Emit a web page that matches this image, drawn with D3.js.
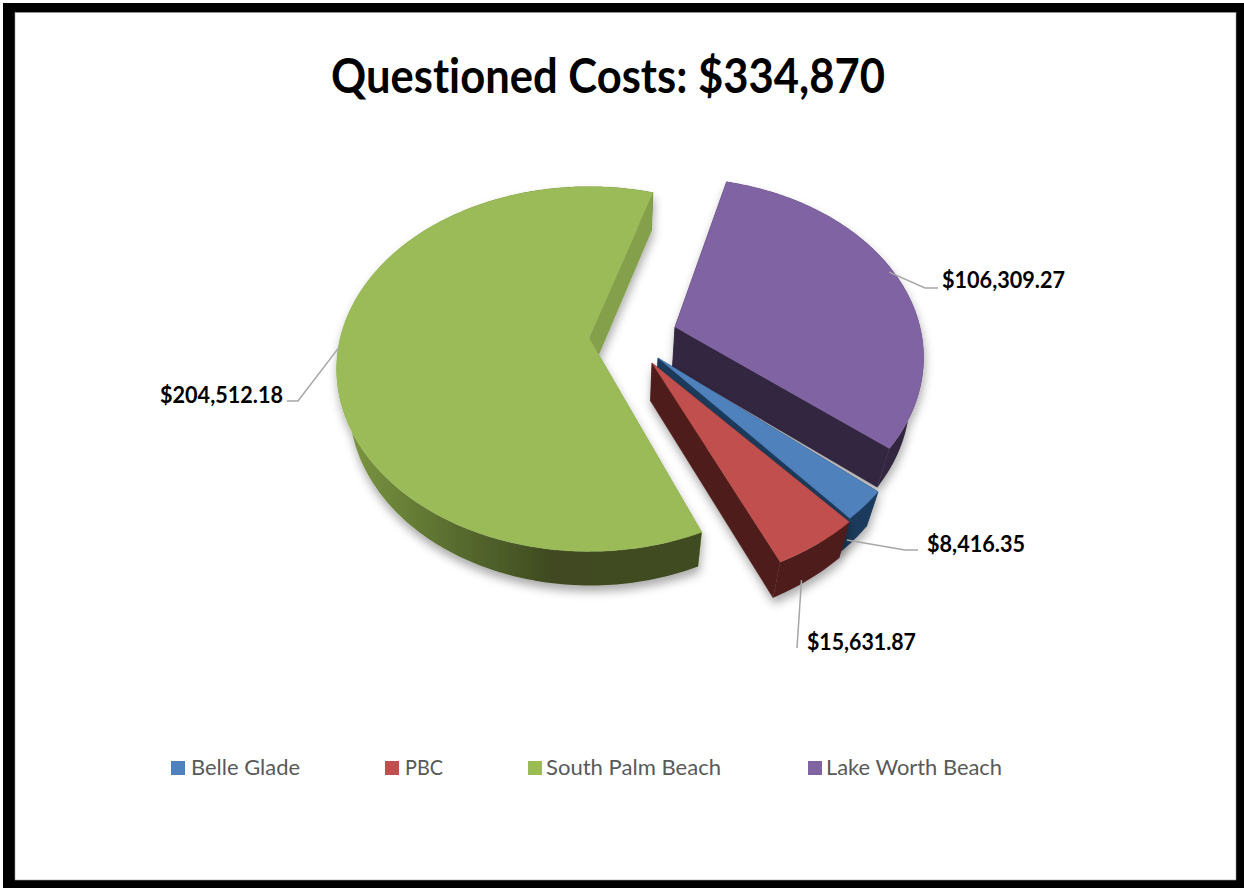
<!DOCTYPE html>
<html>
<head>
<meta charset="utf-8">
<title>Questioned Costs</title>
<script src="https://cdnjs.cloudflare.com/ajax/libs/d3/7.8.5/d3.min.js"></script>
<style>
  html, body { margin: 0; padding: 0; background: #fff; }
  svg { display: block; }
  text { font-family: Lato, "Open Sans", sans-serif; font-variant-ligatures: none; }
</style>
</head>
<body>
<svg id="chart" width="1244" height="888"></svg>
<script>
// Chart values
const categories = ["Belle Glade", "PBC", "South Palm Beach", "Lake Worth Beach"];
const costs = [8416.35, 15631.87, 204512.18, 106309.27];
const chartTitle = "Questioned Costs: $334,870";

// Colours per category: top face, cut face, rim
const topColors = ["#4f81bd", "#c0504d", "#9bbb59", "#8064a2"];
const wallColors = ["#1b3a5c", "#4f1e1c", "#84a04c", "#33263f"];

// Where each exploded wedge sits: tip position, radius factor, small rotation (degrees), thickness factor
const wedgeLayout = [
  { tipX: 658, tipY: 358, size: 1.03, twist: 0, thick: 1 },
  { tipX: 652, tipY: 363, size: 1.04, twist: -1, thick: 1.05 },
  { tipX: 589, tipY: 338, size: 0.995, twist: 1.2, thick: 1 },
  { tipX: 675, tipY: 327, size: 0.98, twist: -2, thick: 1.1 }
];

// Value labels with their leader lines
const labelLayout = [
  { x: 927, y: 551.5, width: 98, elbow: [[905, 550], [918, 550]], onBase: 1, nudge: [-7, 0] },
  { x: 807, y: 649.5, width: 109, elbow: [[797, 648]], onBase: 1, nudge: [-7, 2] },
  { x: 160, y: 403, width: 123, elbow: [[298, 401], [287, 401]], onBase: 0, nudge: [0, 2] },
  { x: 942, y: 288, width: 123, elbow: [[925, 288], [938, 288]], onBase: 0, nudge: [-6, -2] }
];

// Legend columns: swatch left edge, label left edge, label width
const legendLayout = [
  { swatch: 171, text: 191, width: 109 },
  { swatch: 385, text: 405, width: 38 },
  { swatch: 528, text: 546, width: 175 },
  { swatch: 808, text: 826, width: 176 }
];

const svg = d3.select("#chart");
const defs = svg.append("defs");

// Soft shadow cast by each wedge
const shadow = defs.append("filter").attr("id", "wedgeShadow")
  .attr("x", "-20%").attr("y", "-20%").attr("width", "140%").attr("height", "140%");
shadow.append("feDropShadow")
  .attr("dx", 1).attr("dy", 6).attr("stdDeviation", 5)
  .attr("flood-color", "#000").attr("flood-opacity", 0.33);

// Shaded rim of the large wedge, running from lit left side to dark front
const rimGradient = defs.append("linearGradient").attr("id", "greenRim")
  .attr("gradientUnits", "userSpaceOnUse")
  .attr("x1", 345).attr("x2", 700).attr("y1", 0).attr("y2", 0);
[[0, "#7c9742"], [0.15, "#6a8238"], [0.33, "#56692e"], [0.46, "#4a5a27"], [0.58, "#3f4a20"], [1, "#414c20"]]
  .forEach(([o, c]) => rimGradient.append("stop").attr("offset", o).attr("stop-color", c));

const rimFill = ["#1b3a5c", "#4f1e1c", "url(#greenRim)", "#33263f"];

// Frame around the chart
svg.append("rect").attr("x", 3).attr("y", 3).attr("width", 1241).attr("height", 885).attr("fill", "#000");
svg.append("rect").attr("x", 15).attr("y", 12.5).attr("width", 1221).attr("height", 867.5)
  .attr("fill", "#fff").attr("stroke", "#9a9a9a").attr("stroke-width", 0.6);

// Title
svg.append("text")
  .attr("x", 331).attr("y", 93)
  .attr("textLength", 554).attr("lengthAdjust", "spacingAndGlyphs")
  .attr("font-size", 48).attr("font-weight", 700).attr("fill", "#000")
  .text(chartTitle);

// Pie angles, first wedge starting at 130.5 degrees clockwise from the top
const pieLayout = d3.pie().sort(null).startAngle(130.5 * Math.PI / 180)
  .endAngle((130.5 + 360) * Math.PI / 180);
const arcs = pieLayout(costs);

// Tilted-disc projection with mild perspective
const spreadX = d3.scaleLinear().domain([-1, 1]).range([-250, 250]);
const spreadY = d3.scaleLinear().domain([-1, 1]).range([-178, 178]);
const tilt = 0.17;

function rimPoint(i, angle) {
  const w = wedgeLayout[i];
  const a = angle + w.twist * Math.PI / 180;
  const X = Math.sin(a), Y = -Math.cos(a);
  const persp = 1 - tilt * Y;
  return [w.tipX + w.size * spreadX(X / persp), w.tipY + w.size * spreadY(Y / persp)];
}

// Lower face of the disc: pushed down and drawn in slightly toward the vanishing line
const depthAt = d3.scaleLinear().domain([200, 560]).range([38, 34]);
const lower = ([x, y], thick = 1) => [x - (x - 620) * 0.045, y + depthAt(y) * thick];

const pathOf = d3.line().curve(d3.curveLinear);

function sampleRim(i, d) {
  const n = Math.max(8, Math.ceil((d.endAngle - d.startAngle) * 60));
  return d3.range(n + 1).map(k => rimPoint(i, d.startAngle + (d.endAngle - d.startAngle) * k / n));
}

// Back wedges are painted first so the nearer ones overlap them
const paintOrder = [3, 2, 0, 1];
paintOrder.forEach(i => {
  const d = arcs[i];
  const rim = sampleRim(i, d);
  const tip = [wedgeLayout[i].tipX, wedgeLayout[i].tipY];
  const thick = wedgeLayout[i].thick;
  const down = p => lower(p, thick);
  const g = svg.append("g").attr("class", "wedge").attr("filter", "url(#wedgeShadow)");

  const face = pts => pathOf(pts) + "Z";
  const cutFace = edge => g.append("path")
    .attr("d", face([tip, edge, down(edge), down(tip)]))
    .attr("fill", wallColors[i]).attr("stroke", wallColors[i]).attr("stroke-width", 0.5);

  // The leading cut faces away from the viewer, so it goes under the rim; the trailing cut goes over it
  cutFace(rim[0]);
  g.append("path")
    .attr("d", face(rim.concat(rim.map(down).reverse())))
    .attr("fill", rimFill[i]);
  cutFace(rim[rim.length - 1]);
  g.append("path")
    .attr("d", face([tip].concat(rim)))
    .attr("fill", topColors[i]).attr("stroke", topColors[i]).attr("stroke-width", 0.4);
});

// Value labels and leader lines
const money = d3.format("$,.2f");
arcs.forEach((d, i) => {
  const l = labelLayout[i];
  const mid = (d.startAngle + d.endAngle) / 2;
  let anchor = rimPoint(i, mid);
  if (l.onBase) anchor = lower(anchor);
  anchor = [anchor[0] + l.nudge[0], anchor[1] + l.nudge[1]];
  svg.append("path")
    .attr("d", pathOf([anchor].concat(l.elbow)))
    .attr("fill", "none").attr("stroke", "#a6a6a6").attr("stroke-width", 1.5);
  svg.append("text")
    .attr("x", l.x).attr("y", l.y)
    .attr("textLength", l.width).attr("lengthAdjust", "spacingAndGlyphs")
    .attr("font-size", 23).attr("font-weight", 700).attr("fill", "#000")
    .text(money(costs[i]));
});

// Legend
categories.forEach((name, i) => {
  const l = legendLayout[i];
  svg.append("rect")
    .attr("x", l.swatch).attr("y", 761).attr("width", 14).attr("height", 14)
    .attr("fill", topColors[i]);
  svg.append("text")
    .attr("x", l.text).attr("y", 775)
    .attr("textLength", l.width).attr("lengthAdjust", "spacingAndGlyphs")
    .attr("font-size", 22).attr("fill", "#595959")
    .text(name);
});
</script>
</body>
</html>
